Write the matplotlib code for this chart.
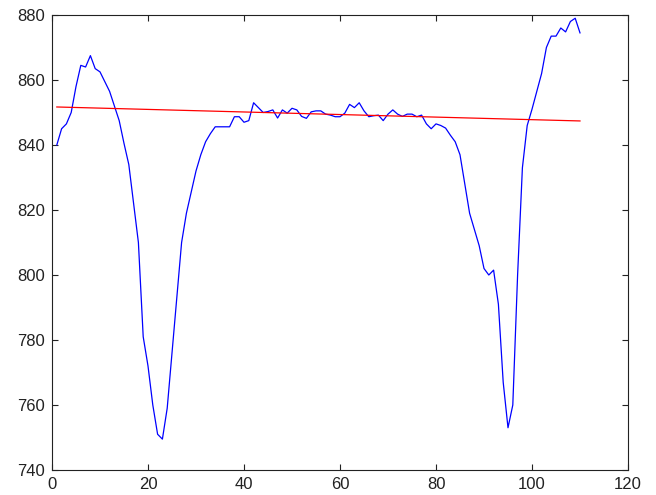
import numpy as np
import matplotlib
matplotlib.use("Agg")
import matplotlib.pyplot as plt

# signal, one sample per index 1..110
signal = [
    840.0, 845.0, 846.5, 850.0, 858.0, 864.5, 864.0, 867.5, 863.5, 862.5,
    859.5, 856.5, 852.0, 847.5, 840.5, 834.0, 822.0, 810.0, 781.0, 772.0,
    760.0, 751.0, 749.5, 759.0, 776.0, 793.0, 810.0, 819.0, 825.5, 832.0,
    837.0, 841.0, 843.5, 845.6, 845.6, 845.6, 845.6, 848.7, 848.7, 847.0,
    847.5, 853.0, 851.5, 850.0, 850.3, 850.8, 848.3, 850.8, 849.8, 851.3,
    850.8, 848.8, 848.2, 850.2, 850.5, 850.5, 849.5, 849.2, 848.7, 848.7,
    849.8, 852.5, 851.5, 853.0, 850.5, 848.7, 849.0, 849.2, 847.5, 849.5,
    850.8, 849.5, 848.8, 849.5, 849.5, 848.7, 849.2, 846.5, 845.0, 846.5,
    846.0, 845.2, 843.0, 841.0, 837.0, 828.0, 819.0, 814.0, 809.0, 802.0,
    800.0, 801.5, 791.0, 767.0, 753.0, 760.0, 800.0, 833.0, 846.0, 851.0,
    856.5, 862.0, 870.0, 873.5, 873.5, 876.0, 874.8, 878.0, 879.0, 874.5,
]
idx = np.arange(1, len(signal) + 1)

# trend line end points
trend_x = [1, 110]
trend_y = [851.7, 847.4]

xticks = [0, 20, 40, 60, 80, 100, 120]
yticks = [740, 760, 780, 800, 820, 840, 860, 880]

plt.rcParams['font.family'] = ['Liberation Sans', 'DejaVu Sans']

fig = plt.figure(figsize=(6.56, 4.95), dpi=100)
ax = fig.add_axes([52 / 656, 25 / 495, 576 / 656, 455 / 495])

ax.plot(idx, signal, color='#0000ff', linewidth=0.9)
ax.plot(trend_x, trend_y, color='#ff0000', linewidth=0.9)

ax.set_xlim(0, 120)
ax.set_ylim(740, 880)
ax.set_xticks(xticks)
ax.set_yticks(yticks)
ax.tick_params(direction='in', length=4, width=0.8, labelsize=12, pad=5,
               colors='#222222', top=True, right=True)
for s in ax.spines.values():
    s.set_linewidth(0.8)
    s.set_color('#222222')

plt.savefig('out.png', dpi=100)
